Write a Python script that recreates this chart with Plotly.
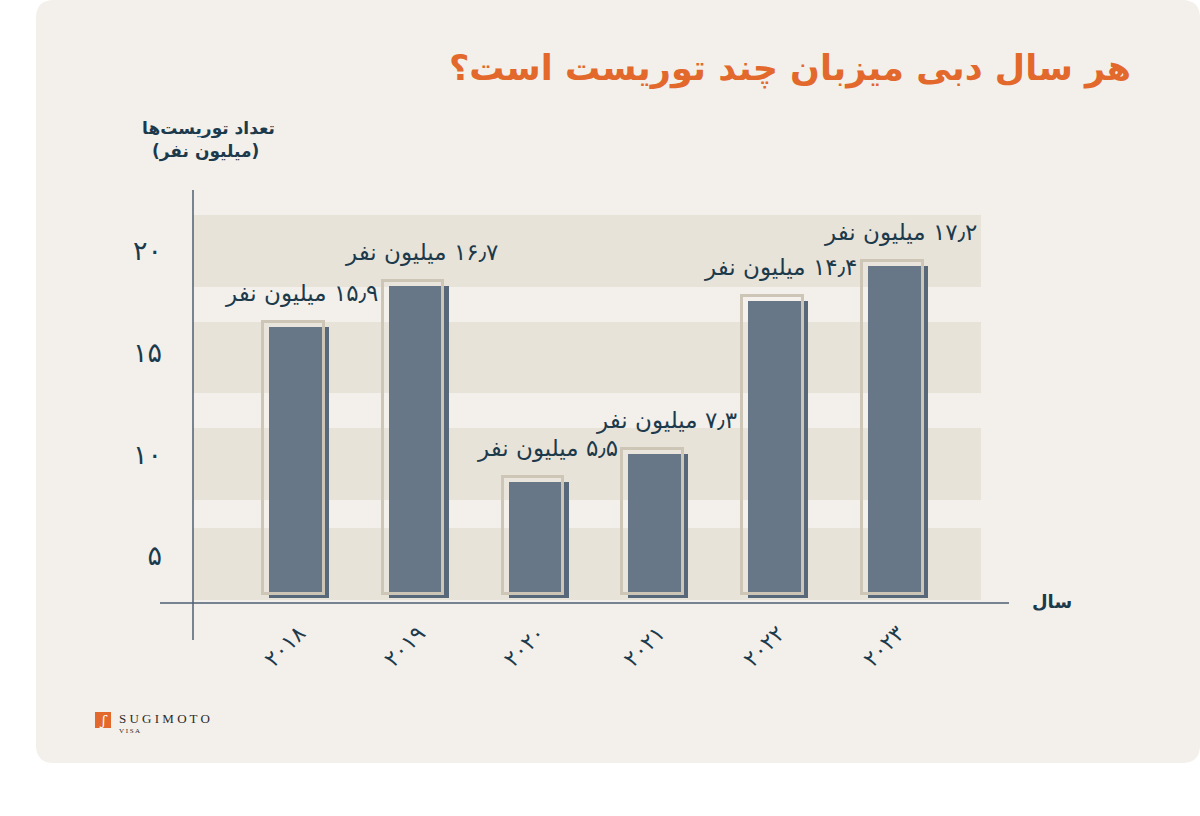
import plotly.graph_objects as go

# ---------------- data ----------------
year_labels = ["۲۰۱۸", "۲۰۱۹", "۲۰۲۰", "۲۰۲۱", "۲۰۲۲", "۲۰۲۳"]
tourists_millions = [15.9, 16.7, 5.5, 7.3, 14.4, 17.2]          # value shown in the labels
bar_heights = [16.26, 18.28, 8.65, 10.02, 17.56, 19.28]         # bar tops as drawn on the y axis
bar_base = 2.93
y_tick_values = [5, 10, 15, 20]
y_tick_labels = ["۵", "۱۰", "۱۵", "۲۰"]

title_text = "هر سال دبی میزبان چند توریست است؟"
y_title_line1 = "تعداد توریست‌ها"
y_title_line2 = "(میلیون نفر)"
x_title = "سال"
unit_text = "میلیون نفر"

FA_DIGITS = str.maketrans("0123456789.", "۰۱۲۳۴۵۶۷۸۹٫")


def fa_number(v):
    return f"{v:.1f}".translate(FA_DIGITS)


labels = ["\u200F" + fa_number(v) + " " + unit_text for v in tourists_millions]

# ---------------- geometry helpers (pixel -> paper) ----------------
FW, FH = 1200, 816
L, R, T, B = 193, 1008, 190, 603
PW, PH = R - L, B - T


def xp(px):
    return (px - L) / PW


def yp(py):
    return (B - py) / PH


TEXT = "#1c3a4b"
ORANGE = "#e2692b"
FONT = "DejaVu Sans"

fig = go.Figure()

# dark bars
fig.add_trace(go.Bar(
    x=year_labels,
    y=[h - bar_base for h in bar_heights],
    base=bar_base,
    width=0.5,
    marker=dict(color="#57687b", line=dict(width=0)),
    hoverinfo="skip",
    showlegend=False,
))
# light outlined frame, offset up-left
frame_lift = 0.25
fig.add_trace(go.Bar(
    x=year_labels,
    y=[h + frame_lift - (bar_base + 0.2) for h in bar_heights],
    base=bar_base + 0.2,
    width=0.505,
    offset=-0.30,
    marker=dict(color="rgba(255,255,255,0.10)", line=dict(color="#cdc5b6", width=3)),
    hoverinfo="skip",
    showlegend=False,
))

shapes = []
# card background
cx0, cx1, cy0, cy1, rr = 36, 1200, 0, 763, 18
path = (
    f"M {xp(cx0 + rr)},{yp(cy0)} L {xp(cx1 - rr)},{yp(cy0)} "
    f"Q {xp(cx1)},{yp(cy0)} {xp(cx1)},{yp(cy0 + rr)} "
    f"L {xp(cx1)},{yp(cy1 - rr)} Q {xp(cx1)},{yp(cy1)} {xp(cx1 - rr)},{yp(cy1)} "
    f"L {xp(cx0 + rr)},{yp(cy1)} Q {xp(cx0)},{yp(cy1)} {xp(cx0)},{yp(cy1 - rr)} "
    f"L {xp(cx0)},{yp(cy0 + rr)} Q {xp(cx0)},{yp(cy0)} {xp(cx0 + rr)},{yp(cy0)} Z"
)
shapes.append(dict(type="path", path=path, xref="paper", yref="paper",
                   fillcolor="#f3f0eb", line=dict(width=0), layer="below"))
# horizontal bands
bands = [(18.23, 21.77), (13.02, 16.51), (7.75, 11.30), (2.84, 6.38)]
for lo, hi in bands:
    shapes.append(dict(type="rect", xref="paper", yref="y", x0=0, x1=xp(981),
                       y0=lo, y1=hi, fillcolor="#e8e3d9", line=dict(width=0), layer="below"))
# axis lines
shapes.append(dict(type="line", xref="paper", yref="paper", x0=0, x1=0,
                   y0=yp(190), y1=yp(640), line=dict(color="#4f5f74", width=1.5)))
shapes.append(dict(type="line", xref="paper", yref="paper", x0=xp(160), x1=xp(1009),
                   y0=yp(603), y1=yp(603), line=dict(color="#4f5f74", width=1.5)))
# logo square
shapes.append(dict(type="rect", xref="paper", yref="paper", x0=xp(95), x1=xp(111),
                   y0=yp(712), y1=yp(728), fillcolor=ORANGE, line=dict(width=0)))

annotations = []
for i, lab in enumerate(labels):
    annotations.append(dict(
        x=i, y=bar_heights[i] + frame_lift, xref="x", yref="y",
        text=lab, showarrow=False, xanchor="right", yanchor="middle",
        xshift=81, yshift=28, font=dict(family=FONT, size=23, color=TEXT),
    ))

annotations += [
    dict(x=xp(1133), y=yp(68), xref="paper", yref="paper", text=title_text,
         showarrow=False, xanchor="right", yanchor="middle",
         font=dict(family=FONT, size=35, color=ORANGE, weight="bold")),
    dict(x=xp(208), y=yp(128), xref="paper", yref="paper", text=y_title_line1,
         showarrow=False, xanchor="center", yanchor="middle",
         font=dict(family=FONT, size=17, color=TEXT, weight="bold")),
    dict(x=xp(205), y=yp(152), xref="paper", yref="paper", text=y_title_line2,
         showarrow=False, xanchor="center", yanchor="middle",
         font=dict(family=FONT, size=17, color=TEXT, weight="bold")),
    dict(x=xp(1052), y=yp(601), xref="paper", yref="paper", text=x_title,
         showarrow=False, xanchor="center", yanchor="middle",
         font=dict(family=FONT, size=18, color=TEXT, weight="bold")),
    dict(x=xp(103), y=yp(720), xref="paper", yref="paper", text="<i>ʃ</i>",
         showarrow=False, xanchor="center", yanchor="middle",
         font=dict(family="DejaVu Serif", size=13, color="white")),
    dict(x=xp(117), y=yp(718), xref="paper", yref="paper", text="S U G I M O T O",
         showarrow=False, xanchor="left", yanchor="middle",
         font=dict(family="Liberation Serif", size=13, color="#2b2b2b")),
    dict(x=xp(117), y=yp(731), xref="paper", yref="paper", text="V I S A",
         showarrow=False, xanchor="left", yanchor="middle",
         font=dict(family="Liberation Serif", size=7, color="#2b2b2b")),
]

fig.update_layout(
    width=FW, height=FH,
    margin=dict(l=L, r=FW - R, t=T, b=FH - B, pad=0),
    paper_bgcolor="white",
    plot_bgcolor="rgba(0,0,0,0)",
    barmode="overlay",
    bargap=0,
    showlegend=False,
    shapes=shapes,
    annotations=annotations,
    font=dict(family=FONT, color=TEXT),
    xaxis=dict(
        type="category", range=[-0.885, 5.918], showgrid=False, zeroline=False,
        showline=False, ticks="", tickangle=-45, ticklabelstandoff=12,
        tickfont=dict(family=FONT, size=22, color=TEXT),
    ),
    yaxis=dict(
        range=[2.69, 23.0], showgrid=False, zeroline=False, showline=False,
        tickvals=y_tick_values, ticktext=y_tick_labels, ticks="",
        ticklabelstandoff=30, tickfont=dict(family=FONT, size=27, color=TEXT),
    ),
)

fig.write_html("out.html")
